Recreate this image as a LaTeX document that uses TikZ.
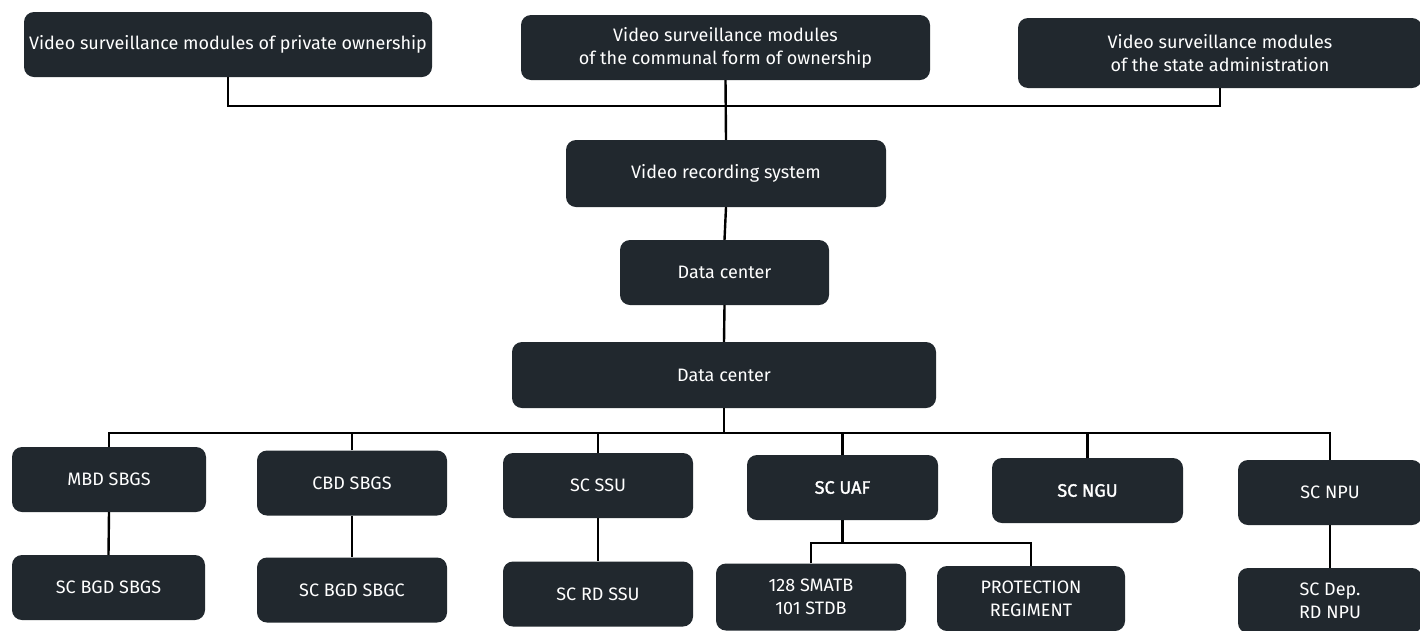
\documentclass[tikz,border=0pt]{standalone}
\usepackage{fontspec}
\setmainfont{Fira Sans}
\newfontfamily\medfont[FakeBold=1.6]{Fira Sans}
\definecolor{boxc}{RGB}{33,40,46}
\tikzset{
  box/.style={fill=boxc, rounded corners=10pt, text=white, align=center,
    inner sep=0pt, font=\fontsize{18}{23}\selectfont, minimum height=65pt},
  wire/.style={draw=black, line width=2.4pt}
}
\begin{document}
\begin{tikzpicture}[x=1pt,y=-1pt]
\useasboundingbox[fill=white] (0,0) rectangle (1420,630);
% top row
\node[box, minimum width=408pt] (p1) at (228,44.5) {Video surveillance modules of private ownership};
\node[box, minimum width=409pt] (p2) at (725.5,47.5) {Video surveillance modules\\of the communal form of ownership};
\node[box, minimum width=404pt, minimum height=70pt] (p3) at (1220,53) {Video surveillance modules\\of the state administration};
% middle column
\node[box, minimum width=320pt, minimum height=67pt] (vr) at (726,173.5) {Video recording system};
\node[box, minimum width=209pt] (dc1) at (724.5,272.5) {Data center};
\node[box, minimum width=424pt, minimum height=66pt] (dc2) at (724,375) {Data center};
% bottom row 1
\node[box, minimum width=194pt] (b1) at (109,479.5) {MBD SBGS};
\node[box, minimum width=190pt] (b2) at (352,483) {CBD SBGS};
\node[box, minimum width=190pt] (b3) at (598,485.5) {SC SSU};
\node[box, minimum width=191pt] (b4) at (842.5,487.5) {\medfont SC UAF};
\node[box, minimum width=191pt] (b5) at (1087.5,490.5) {\medfont SC NGU};
\node[box, minimum width=184pt] (b6) at (1330,492.5) {SC NPU};
% bottom row 2
\node[box, minimum width=193pt] (c1) at (108.5,587.5) {SC BGD SBGS};
\node[box, minimum width=190pt] (c2) at (352,590) {SC BGD SBGC};
\node[box, minimum width=190pt] (c3) at (598,594) {SC RD SSU};
\node[box, minimum width=190pt, minimum height=67pt] (c4) at (811,597) {128 SMATB\\101 STDB};
\node[box, minimum width=188pt] (c5) at (1031,598.5) {PROTECTION\\REGIMENT};
\node[box, minimum width=184pt] (c6) at (1330,600.5) {SC Dep.\\RD NPU};
% connectors
\coordinate (bus1) at (725,106);
\draw[wire] (p1.south) |- (bus1) -| (p3.south);
\draw[wire] (p2.south) -- (vr.north);
\draw[wire] (vr.south) -- (dc1.north);
\draw[wire] (dc1.south) -- (dc2.north);
\coordinate (bus2) at (724,433);
\draw[wire] (dc2.south) -- (bus2);
\draw[wire] (b1.north) |- (bus2) -| (b6.north);
\draw[wire] (b2.north) -- (b2.north |- bus2);
\draw[wire] (b3.north) -- (b3.north |- bus2);
\draw[wire] (b4.north) -- (b4.north |- bus2);
\draw[wire] (b5.north) -- (b5.north |- bus2);
\draw[wire] (b1.south) -- (c1.north);
\draw[wire] (b2.south) -- (c2.north);
\draw[wire] (b3.south) -- (c3.north);
\draw[wire] (b6.south) -- (c6.north);
\coordinate (bus3) at (842.5,543);
\draw[wire] (b4.south) -- (bus3);
\draw[wire] (c4.north) |- (bus3) -| (c5.north);
\end{tikzpicture}
\end{document}
